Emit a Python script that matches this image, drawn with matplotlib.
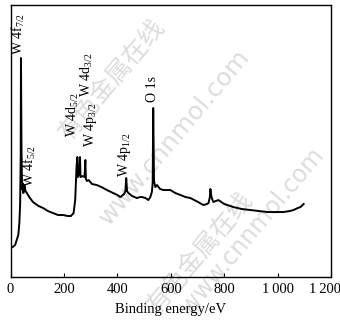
"""XPS survey spectrum of the W film (binding energy 0-1200 eV)."""
import matplotlib
matplotlib.use("Agg")
import matplotlib.pyplot as plt
import matplotlib.transforms as mtransforms

plt.rcParams["font.family"] = ["Liberation Serif", "DejaVu Serif"]
plt.rcParams["mathtext.fontset"] = "custom"
plt.rcParams["mathtext.rm"] = "Liberation Serif"

# survey spectrum, intensity in arbitrary units
energy = [0, 8, 17, 23, 29, 33, 36, 38, 39, 41, 43, 45, 48, 52, 56, 61, 70, 84,
          105, 122, 140, 159, 178, 197, 215, 226, 236, 242, 247, 250, 252, 256,
          260, 262, 270, 277, 280, 282, 286, 292, 305, 323, 340, 361, 384, 400,
          411, 425, 430, 433, 436, 441, 455, 473, 485, 492, 505, 516, 523, 529,
          532, 534, 537, 542, 548, 560, 572, 585, 598, 617, 636, 655, 673, 695,
          722, 735, 741, 746, 748, 752, 759, 768, 778, 800, 834, 866, 898, 930,
          962, 990, 1022, 1045, 1059, 1075, 1085, 1097]
intensity = [29, 30, 32, 37, 42, 54, 74, 120, 219, 130, 88, 94, 84, 92, 86, 84,
             80, 75, 71, 69, 66, 64, 62, 62, 61, 61, 64, 77, 110, 120, 100, 103,
             120, 100, 101, 100, 117, 98, 96, 97, 93, 92, 90, 87, 84, 82, 80, 83,
             86, 99, 86, 84, 81, 79, 80, 80, 79, 77, 80, 85, 94, 169, 96, 90, 92,
             88, 87, 87, 87, 84, 82, 80, 79, 76, 72, 73, 74, 80, 88, 80, 75, 76,
             77, 73, 70, 68, 67, 66, 65, 65, 65, 66, 67, 69, 70, 73]

# peak labels: text, x position (eV), bottom of the text (a.u.)
peak_names = ["W 4f$_{\\mathregular{7/2}}$", "W 4f$_{\\mathregular{5/2}}$",
              "W 4d$_{\\mathregular{5/2}}$", "W 4d$_{\\mathregular{3/2}}$",
              "W 4p$_{\\mathregular{3/2}}$", "W 4p$_{\\mathregular{1/2}}$",
              "O 1s"]
peak_x = [30, 69, 234, 287, 298, 426, 531]
peak_y = [222, 90, 140, 180, 130, 100, 175]

xticks = [0, 200, 400, 600, 800, 1000, 1200]
xtick_labels = ["0", "200", "400", "600", "800", "1\u2009000", "1\u2009200"]

fig = plt.figure(figsize=(3.4, 3.33), dpi=100)
ax = fig.add_axes([0.031, 0.168, 0.943, 0.817])

# faint site watermark
wm = dict(color="#dcdcdc", rotation=50, ha="center", va="center",
          transform=ax.transAxes, zorder=0)
cjk = ["Noto Sans CJK SC", "DejaVu Sans"]
ax.text(0.317, 0.724, "有色金属在线", fontsize=18, family=cjk, **wm)
ax.text(0.513, 0.515, "www.cnnmol.com", fontsize=18, family="DejaVu Sans", **wm)
ax.text(0.591, 0.090, "有色金属在线", fontsize=18, family=cjk, **wm)
ax.text(0.755, 0.170, "www.cnnmol.com", fontsize=17, family="DejaVu Sans", **wm)

ax.plot(energy, intensity, color="black", lw=1.4, zorder=2)

for name, px, py in zip(peak_names, peak_x, peak_y):
    ax.text(px, py, name, rotation=90, ha="center", va="bottom", fontsize=10)

ax.set_xlim(0, 1200)
ax.set_ylim(0, 272)
ax.set_xticks(xticks)
ax.set_xticklabels(xtick_labels)
ax.set_yticks([])
ax.tick_params(axis="x", direction="in", length=3, labelsize=10.5, pad=4)
ax.set_xlabel("Binding energy/eV", fontsize=10.5, labelpad=5)
for s in ax.spines.values():
    s.set_linewidth(1.0)

# keep the last tick label inside the figure
last = ax.get_xticklabels()[-1]
last.set_transform(last.get_transform() +
                   mtransforms.ScaledTranslation(-6 / 100, 0, fig.dpi_scale_trans))

fig.savefig("out.png", dpi=100)
